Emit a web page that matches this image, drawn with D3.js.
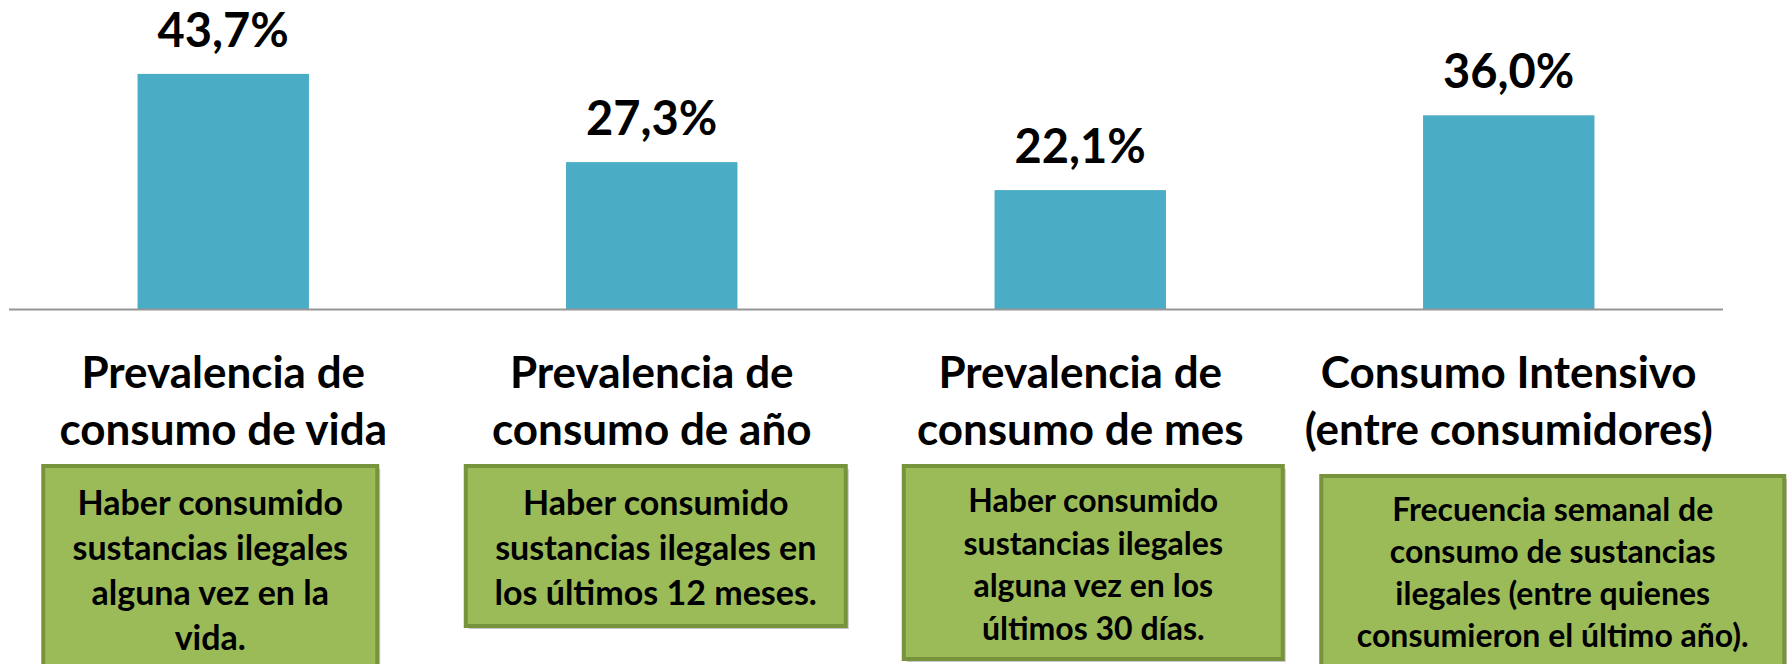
<!DOCTYPE html>
<html>
<head>
<meta charset="utf-8">
<script src="https://cdn.jsdelivr.net/npm/d3@7"></script>
<style>
  body { margin: 0; background: #fff; }
  text { font-family: Lato, "Open Sans", sans-serif; font-weight: bold; fill: #000; }
</style>
</head>
<body>
<script>
// datos del grafico
var categories = ["vida", "ano", "mes", "intensivo"];
var values = [43.7, 27.3, 22.1, 36.0];
var valueLabels = ["43,7%", "27,3%", "22,1%", "36,0%"];
var categoryLines = [
  ["Prevalencia de", "consumo de vida"],
  ["Prevalencia de", "consumo de año"],
  ["Prevalencia de", "consumo de mes"],
  ["Consumo Intensivo", "(entre consumidores)"]
];
var descriptions = [
  ["Haber consumido", "sustancias ilegales", "alguna vez en la", "vida."],
  ["Haber consumido", "sustancias ilegales en", "los últimos 12 meses."],
  ["Haber consumido", "sustancias ilegales", "alguna vez en los", "últimos 30 días."],
  ["Frecuencia semanal de", "consumo de sustancias", "ilegales (entre quienes", "consumieron el último año)."]
];

// cajas verdes (posicion relativa al centro de la barra)
var boxLayout = [
  {dx: -13, width: 334, top: 466, height: 215, first: 49, step: 45, size: 34},
  {dx: 4,   width: 380, top: 466, height: 160, first: 49, step: 45, size: 34},
  {dx: 13,  width: 379, top: 466, height: 193, first: 46, step: 42.5, size: 32},
  {dx: 44,  width: 463, top: 476, height: 210, first: 45, step: 42, size: 32}
];

var width = 1787, height = 664;
var baseline = 309;

var svg = d3.select("body").append("svg")
    .attr("width", width)
    .attr("height", height);

var x = d3.scaleBand()
    .domain(categories)
    .range([9, 1723])
    .paddingInner(0.6)
    .paddingOuter(0.3);

var y = d3.scaleLinear()
    .domain([0, 50])
    .range([baseline, 40]);

// barras
svg.selectAll(".bar")
    .data(values)
  .enter().append("rect")
    .attr("class", "bar")
    .attr("x", function(d, i) { return x(categories[i]); })
    .attr("y", function(d) { return y(d); })
    .attr("width", x.bandwidth())
    .attr("height", function(d) { return y(0) - y(d); })
    .attr("fill", "#4BACC6");

// eje x (solo la linea)
svg.append("line")
    .attr("x1", 9)
    .attr("x2", 1723)
    .attr("y1", y(0) + 0.5)
    .attr("y2", y(0) + 0.5)
    .attr("stroke", "#969696")
    .attr("stroke-width", 2);

// etiquetas de valor
svg.selectAll(".val")
    .data(values)
  .enter().append("text")
    .attr("class", "val")
    .attr("x", function(d, i) { return x(categories[i]) + x.bandwidth() / 2; })
    .attr("y", function(d) { return y(d) - 27; })
    .attr("text-anchor", "middle")
    .style("font-size", "47px")
    .text(function(d, i) { return valueLabels[i]; });

// nombres de categorias
categoryLines.forEach(function(lines, i) {
  var cx = x(categories[i]) + x.bandwidth() / 2;
  svg.append("text")
      .attr("text-anchor", "middle")
      .style("font-size", "44px")
    .selectAll("tspan")
      .data(lines)
    .enter().append("tspan")
      .attr("x", cx)
      .attr("y", function(d, j) { return 388 + j * 57; })
      .text(function(d) { return d; });
});

// cajas con descripcion
descriptions.forEach(function(lines, i) {
  var b = boxLayout[i];
  var cx = x(categories[i]) + x.bandwidth() / 2 + b.dx;
  var g = svg.append("g");
  g.append("rect")
      .attr("x", cx - b.width / 2 + 3)
      .attr("y", b.top + 3)
      .attr("width", b.width)
      .attr("height", b.height)
      .attr("fill", "#c8c8c8");
  g.append("rect")
      .attr("x", cx - b.width / 2)
      .attr("y", b.top)
      .attr("width", b.width)
      .attr("height", b.height)
      .attr("fill", "#9BBB59")
      .attr("stroke", "#77933C")
      .attr("stroke-width", 4);
  g.append("text")
      .attr("text-anchor", "middle")
      .style("font-size", b.size + "px")
    .selectAll("tspan")
      .data(lines)
    .enter().append("tspan")
      .attr("x", cx)
      .attr("y", function(d, j) { return b.top + b.first + j * b.step; })
      .text(function(d) { return d; });
});
</script>
</body>
</html>
